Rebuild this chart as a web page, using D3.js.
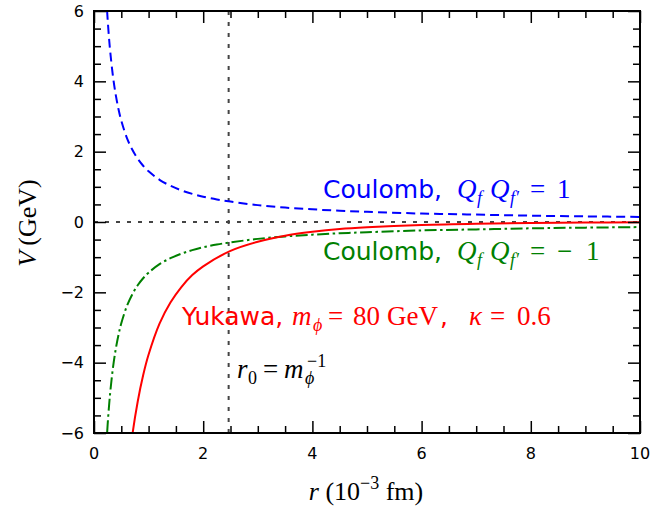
<!DOCTYPE html>
<html>
<head>
<meta charset="utf-8">
<script src="https://cdn.jsdelivr.net/npm/d3@7"></script>
<style>
  body { margin: 0; background: #fff; }
  text { fill: #000; }
</style>
</head>
<body>
<svg id="chart"></svg>
<script>
// 1) Data (read off the reference) ---------------------------------
const rGrid = [0.2, 0.22, 0.25, 0.28, 0.3, 0.35, 0.4, 0.45, 0.5, 0.6, 0.7, 0.8, 0.9, 1,
  1.2, 1.4, 1.6, 1.8, 2, 2.25, 2.5, 3, 3.5, 4, 4.5, 5, 6, 7, 8, 9, 10];
const coulombRepulsive = [7.2, 6.55, 5.76, 5.14, 4.8, 4.11, 3.6, 3.2, 2.88, 2.4, 2.06, 1.8, 1.6, 1.44,
  1.2, 1.03, 0.9, 0.8, 0.72, 0.64, 0.58, 0.48, 0.41, 0.36, 0.32, 0.29, 0.24, 0.21, 0.18, 0.16, 0.144];
const coulombAttractive = [-7.2, -6.55, -5.76, -5.14, -4.8, -4.11, -3.6, -3.2, -2.88, -2.4, -2.06, -1.8, -1.6, -1.44,
  -1.2, -1.03, -0.9, -0.8, -0.72, -0.64, -0.58, -0.48, -0.41, -0.36, -0.32, -0.29, -0.24, -0.21, -0.18, -0.16, -0.144];
const yukawaR = [0.6, 0.7, 0.8, 0.9, 1, 1.2, 1.4, 1.6, 1.8, 2, 2.5, 3, 3.5, 4, 4.5, 5, 6, 7, 8, 9, 10];
const yukawaV = [-7.38, -6.08, -5.11, -4.36, -3.77, -2.89, -2.29, -1.85, -1.51, -1.26, -0.82, -0.56,
  -0.39, -0.28, -0.2, -0.15, -0.083, -0.047, -0.028, -0.016, -0.01];
const rZero = 2.466;  // r0 = 1/m_phi

const xTicks = [0, 2, 4, 6, 8, 10];
const yTicks = [-6, -4, -2, 0, 2, 4, 6];

// 2) Dimensions ----------------------------------------------------
const width = 651, height = 511;
const margin = { left: 94, top: 11, right: 11, bottom: 78 };
const plotW = width - margin.left - margin.right;
const plotH = height - margin.top - margin.bottom;

const svg = d3.select('#chart').attr('width', width).attr('height', height);
const x = d3.scaleLinear().domain([0, 10]).range([0, plotW]);
const y = d3.scaleLinear().domain([-6, 6]).range([plotH, 0]);

const g = svg.append('g').attr('transform', `translate(${margin.left},${margin.top})`);

g.append('defs').append('clipPath').attr('id', 'clip')
  .append('rect').attr('width', plotW).attr('height', plotH);

// 3) Reference lines -----------------------------------------------
g.append('line')
  .attr('x1', 0).attr('x2', plotW).attr('y1', y(0)).attr('y2', y(0))
  .attr('stroke', '#444').attr('stroke-width', 2).attr('stroke-dasharray', '4,7');
g.append('line')
  .attr('x1', x(rZero)).attr('x2', x(rZero)).attr('y1', 0).attr('y2', plotH)
  .attr('stroke', '#444').attr('stroke-width', 2).attr('stroke-dasharray', '4,7');

// 4) Curves --------------------------------------------------------
const line = d3.line().x(d => x(d[0])).y(d => y(d[1])).curve(d3.curveCatmullRom);
const curves = g.append('g').attr('clip-path', 'url(#clip)');

curves.append('path')
  .attr('d', line(d3.zip(rGrid, coulombRepulsive)))
  .attr('fill', 'none').attr('stroke', '#0000ff').attr('stroke-width', 2)
  .attr('stroke-dasharray', '9,5');
curves.append('path')
  .attr('d', line(d3.zip(rGrid, coulombAttractive)))
  .attr('fill', 'none').attr('stroke', '#008000').attr('stroke-width', 2)
  .attr('stroke-dasharray', '12,3.5,2.5,3.5');
curves.append('path')
  .attr('d', line(d3.zip(yukawaR, yukawaV)))
  .attr('fill', 'none').attr('stroke', '#ff0000').attr('stroke-width', 2);

// 5) Axes & frame --------------------------------------------------
const minorX = d3.range(0, 10.01, 0.5).filter(v => !xTicks.includes(v));
const minorY = d3.range(-6, 6.01, 0.5).filter(v => !yTicks.includes(v));

function tickMarks(axis, gen, vals, len) {
  axis.call(gen.tickValues(vals).tickSize(len).tickFormat(''))
    .call(a => a.select('.domain').remove())
    .selectAll('line').attr('stroke', '#000').attr('stroke-width', 1.5);
}
// inward ticks on all four sides
[[12, xTicks, yTicks], [7, minorX, minorY]].forEach(([len, xv, yv]) => {
  tickMarks(g.append('g').attr('transform', `translate(0,${plotH})`), d3.axisTop(x), xv, len);
  tickMarks(g.append('g'), d3.axisBottom(x), xv, len);
  tickMarks(g.append('g'), d3.axisRight(y), yv, len);
  tickMarks(g.append('g').attr('transform', `translate(${plotW},0)`), d3.axisLeft(y), yv, len);
});

g.append('rect').attr('width', plotW).attr('height', plotH)
  .attr('fill', 'none').attr('stroke', '#000').attr('stroke-width', 2);

const fmt = v => (v < 0 ? '\u2212' + Math.abs(v) : String(v));
g.selectAll('.xl').data(xTicks).enter().append('text')
  .attr('x', d => x(d)).attr('y', plotH + 26)
  .attr('text-anchor', 'middle')
  .style('font', '16px "DejaVu Sans"').text(fmt);
g.selectAll('.yl').data(yTicks).enter().append('text')
  .attr('x', -10).attr('y', d => y(d)).attr('dy', '0.36em')
  .attr('text-anchor', 'end')
  .style('font', '16px "DejaVu Sans"').text(fmt);

// 6) Axis titles ---------------------------------------------------
const serif = '"Liberation Serif", "DejaVu Serif", serif';
const xt = svg.append('text').attr('x', 366).attr('y', 500).attr('text-anchor', 'middle')
  .style('font-family', serif).style('font-size', '26px');
xt.append('tspan').style('font-style', 'italic').text('r');
xt.append('tspan').text(' (10');
xt.append('tspan').attr('dy', -11).style('font-size', '18px').text('\u22123');
xt.append('tspan').attr('dy', 11).text(' fm)');

const yt = svg.append('text').attr('transform', 'translate(36,223) rotate(-90)')
  .attr('text-anchor', 'middle')
  .style('font-family', serif).style('font-size', '26px');
yt.append('tspan').style('font-style', 'italic').text('V');
yt.append('tspan').text('\u2009(GeV)');

// 7) Annotations ---------------------------------------------------
// each part: text, x position, and optional italic / sans / sub / sup
function label(base, color, parts) {
  const txt = svg.append('text').attr('y', base).style('fill', color);
  parts.forEach(p => {
    const s = txt.append('tspan').attr('x', p.x).text(p.t)
      .style('font-family', p.sans ? '"DejaVu Sans"' : serif)
      .style('font-size', p.sans ? '25px' : (p.sub || p.sup ? '18px' : '27px'))
      .attr('y', base + (p.sub ? 6 : 0) - (p.sup ? 11 : 0));
    if (p.i) s.style('font-style', 'italic');
  });
}

label(198, '#0000ff', [
  { t: 'Coulomb,', x: 323, sans: 1 },
  { t: 'Q', x: 457, i: 1 }, { t: 'f', x: 477, i: 1, sub: 1 },
  { t: 'Q', x: 490, i: 1 }, { t: 'f\u2032', x: 510, i: 1, sub: 1 },
  { t: '=', x: 530 }, { t: '1', x: 557 }
]);
label(260, '#008000', [
  { t: 'Coulomb,', x: 323, sans: 1 },
  { t: 'Q', x: 457, i: 1 }, { t: 'f', x: 477, i: 1, sub: 1 },
  { t: 'Q', x: 490, i: 1 }, { t: 'f\u2032', x: 510, i: 1, sub: 1 },
  { t: '=', x: 530 }, { t: '\u2212', x: 557 }, { t: '1', x: 586 }
]);
label(325, '#ff0000', [
  { t: 'Yukawa,', x: 182, sans: 1 },
  { t: 'm', x: 292, i: 1 }, { t: '\u03d5', x: 313, i: 1, sub: 1 },
  { t: '=', x: 328 }, { t: '80', x: 353 }, { t: 'GeV', x: 387 },
  { t: ',', x: 440, sans: 1 },
  { t: '\u03ba', x: 469, i: 1 }, { t: '=', x: 490 }, { t: '0.6', x: 517 }
]);
label(378, '#000', [
  { t: 'r', x: 237, i: 1 }, { t: '0', x: 248, sub: 1 },
  { t: '=', x: 263 }, { t: 'm', x: 284, i: 1 },
  { t: '\u03d5', x: 305, i: 1, sub: 1 }, { t: '\u22121', x: 307, sup: 1 }
]);
</script>
</body>
</html>
